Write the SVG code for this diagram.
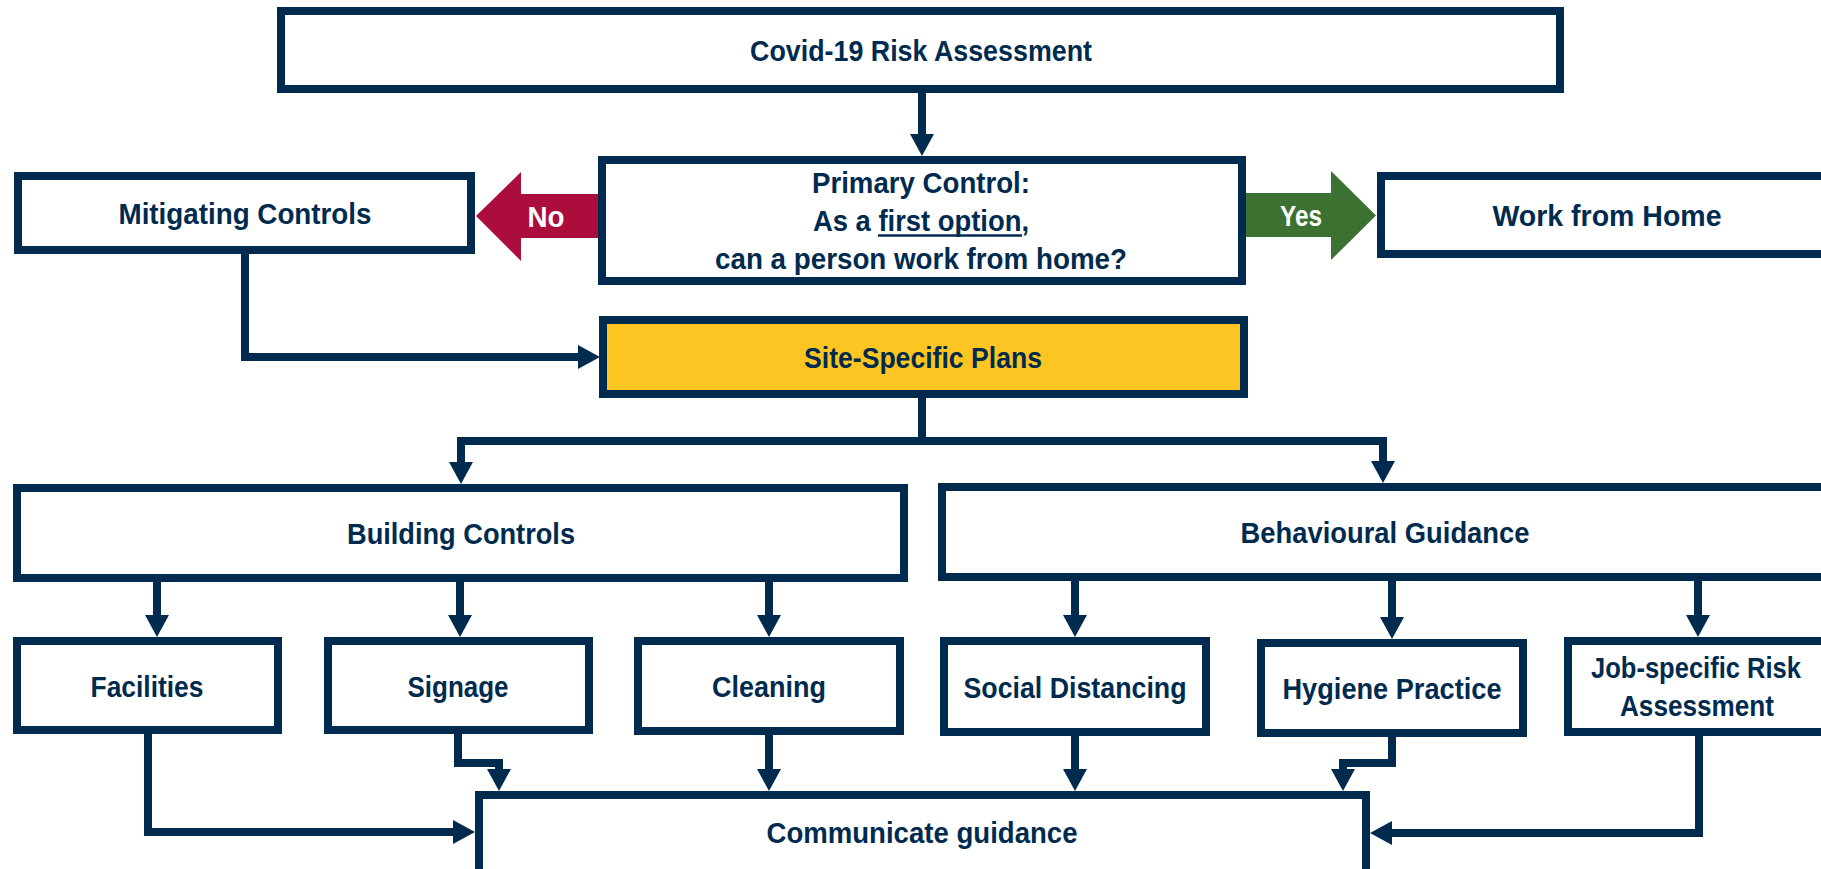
<svg xmlns="http://www.w3.org/2000/svg" width="1821" height="869" viewBox="0 0 1821 869">
<defs>
<style>
.box{fill:#ffffff;stroke:#002b4f;stroke-width:8}
.yel{fill:#fdc521;stroke:#002b4f;stroke-width:8}
.t{font-family:"Liberation Sans",Arial,sans-serif;font-weight:bold;font-size:29px;fill:#002b4f;text-anchor:middle}
.w{fill:#ffffff}
.c{fill:none;stroke:#002b4f;stroke-width:8;stroke-linejoin:miter;marker-end:url(#ah)}
</style>
<marker id="ah" viewBox="0 0 22 24" refX="1" refY="12" markerWidth="22" markerHeight="24" markerUnits="userSpaceOnUse" orient="auto">
<path d="M0,0 L22,12 L0,24 Z" fill="#002b4f"/>
</marker>
</defs>
<rect width="1821" height="869" fill="#ffffff"/>

<g id="connectors">
<path class="c" d="M922,89 V135"/>
<path class="c" d="M245,250 V357 H579"/>
<path class="c" d="M922,394 V441 H461 V463"/>
<path class="c" d="M918,441 H1383 V462"/>
<path class="c" d="M157,578 V616"/>
<path class="c" d="M460,578 V616"/>
<path class="c" d="M769,578 V616"/>
<path class="c" d="M1075,577 V616"/>
<path class="c" d="M1392,577 V618"/>
<path class="c" d="M1698,577 V616"/>
<path class="c" d="M148,730 V832 H454"/>
<path class="c" d="M458,730 V763 H499 V770"/>
<path class="c" d="M769,731 V770"/>
<path class="c" d="M1075,732 V770"/>
<path class="c" d="M1392,733 V763 H1343 V770"/>
<path class="c" d="M1699,732 V833 H1391"/>
<polygon id="no-arrow" points="476,216 521,172 521,194 598,194 598,238 521,238 521,261" fill="#ab0d3d"/>
<text class="t w" x="546" y="227" textLength="37" lengthAdjust="spacingAndGlyphs">No</text>
<polygon id="yes-arrow" points="1246,193 1331,193 1331,171 1376,215.5 1331,260 1331,237 1246,237" fill="#3c7132"/>
<text class="t w" x="1301" y="226" textLength="42" lengthAdjust="spacingAndGlyphs">Yes</text>
</g>

<g id="covid">
<rect class="box" x="281" y="11" width="1279" height="78"/>
<text class="t" x="921" y="61" textLength="342" lengthAdjust="spacingAndGlyphs">Covid-19 Risk Assessment</text>
</g>

<g id="primary">
<rect class="box" x="602" y="160" width="640" height="121"/>
<text class="t" x="921" y="193" textLength="218" lengthAdjust="spacingAndGlyphs">Primary Control:</text>
<text class="t" x="921" y="231" textLength="216" lengthAdjust="spacingAndGlyphs">As a first option,</text>
<line x1="878" y1="235.5" x2="1022" y2="235.5" stroke="#002b4f" stroke-width="2.5"/>
<text class="t" x="921" y="269" textLength="412" lengthAdjust="spacingAndGlyphs">can a person work from home?</text>
</g>

<g id="mitigating">
<rect class="box" x="18" y="176" width="453" height="74"/>
<text class="t" x="245" y="224" textLength="253" lengthAdjust="spacingAndGlyphs">Mitigating Controls</text>
</g>

<g id="wfh">
<rect class="box" x="1381" y="176" width="500" height="78"/>
<text class="t" x="1607" y="226" textLength="229" lengthAdjust="spacingAndGlyphs">Work from Home</text>
</g>

<g id="site">
<rect class="yel" x="603" y="320" width="641" height="74"/>
<text class="t" x="923" y="368" textLength="238" lengthAdjust="spacingAndGlyphs">Site-Specific Plans</text>
</g>

<g id="building">
<rect class="box" x="17" y="488" width="887" height="90"/>
<text class="t" x="461" y="544" textLength="228" lengthAdjust="spacingAndGlyphs">Building Controls</text>
</g>

<g id="behavioural">
<rect class="box" x="942" y="487" width="950" height="90"/>
<text class="t" x="1385" y="543" textLength="289" lengthAdjust="spacingAndGlyphs">Behavioural Guidance</text>
</g>

<g id="facilities">
<rect class="box" x="17" y="641" width="261" height="89"/>
<text class="t" x="147" y="697" textLength="113" lengthAdjust="spacingAndGlyphs">Facilities</text>
</g>

<g id="signage">
<rect class="box" x="328" y="641" width="261" height="89"/>
<text class="t" x="458" y="697" textLength="101" lengthAdjust="spacingAndGlyphs">Signage</text>
</g>

<g id="cleaning">
<rect class="box" x="638" y="641" width="262" height="90"/>
<text class="t" x="769" y="697" textLength="114" lengthAdjust="spacingAndGlyphs">Cleaning</text>
</g>

<g id="social">
<rect class="box" x="944" y="641" width="262" height="91"/>
<text class="t" x="1075" y="698" textLength="223" lengthAdjust="spacingAndGlyphs">Social Distancing</text>
</g>

<g id="hygiene">
<rect class="box" x="1261" y="643" width="262" height="90"/>
<text class="t" x="1392" y="699" textLength="219" lengthAdjust="spacingAndGlyphs">Hygiene Practice</text>
</g>

<g id="jobspecific">
<rect class="box" x="1568" y="641" width="300" height="91"/>
<text class="t" x="1696" y="678" textLength="210" lengthAdjust="spacingAndGlyphs">Job-specific Risk</text>
<text class="t" x="1697" y="716" textLength="154" lengthAdjust="spacingAndGlyphs">Assessment</text>
</g>

<g id="communicate">
<rect class="box" x="479" y="795" width="887" height="90"/>
<text class="t" x="922" y="843" textLength="311" lengthAdjust="spacingAndGlyphs">Communicate guidance</text>
</g>
</svg>
